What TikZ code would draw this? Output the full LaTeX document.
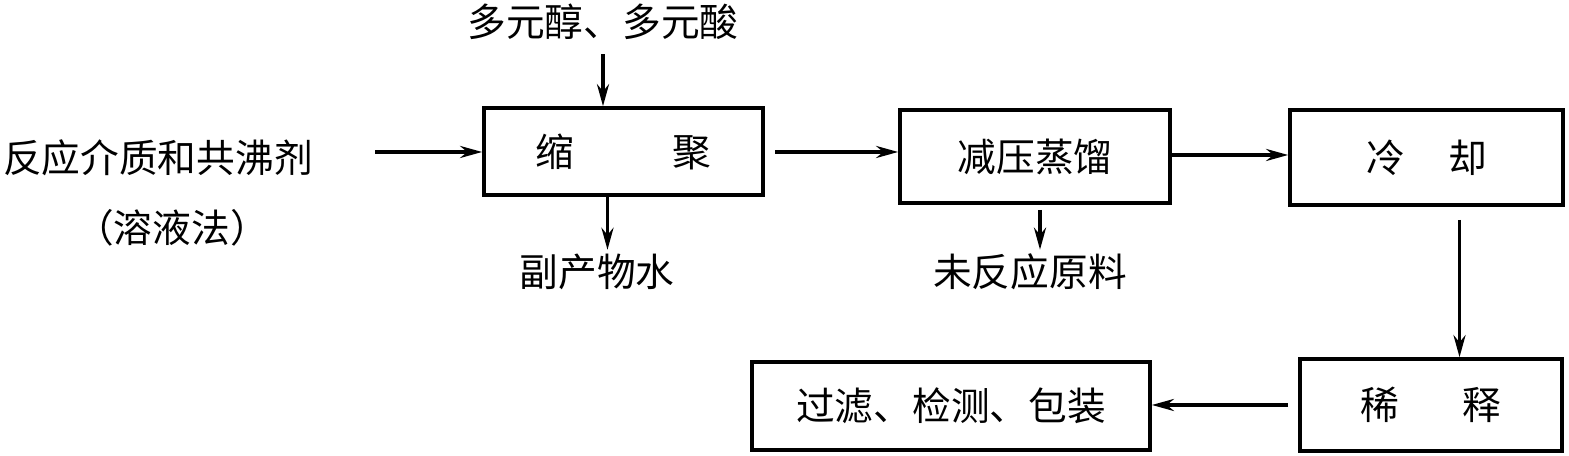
\documentclass[tikz,border=0pt]{standalone}
\usepackage{fontspec}
\setmainfont{Noto Sans CJK SC}
\usetikzlibrary{arrows.meta,calc}
\begin{document}
\begin{tikzpicture}[x=0.01cm,y=-0.01cm,
  every node/.style={font=\fontsize{11}{13}\selectfont, inner sep=1pt},
  procbox/.style={draw, line width=1pt, inner sep=0pt},
  arr/.style={line width=1pt, -{Stealth[length=0.22cm,width=0.12cm]}}]
\useasboundingbox (0,0) rectangle (1569,456);
% boxes
\node[procbox, minimum width=2.79cm, minimum height=0.87cm] (suo) at (623.5,151.5) {缩\hspace{0.98cm}聚};
\node[procbox, minimum width=2.70cm, minimum height=0.93cm] (jy) at (1035,156.5) {减压蒸馏};
\node[procbox, minimum width=2.73cm, minimum height=0.95cm] (lq) at (1426.5,157.5) {冷\hspace{0.43cm}却};
\node[procbox, minimum width=2.62cm, minimum height=0.92cm] (xs) at (1431,405) {稀\hspace{0.63cm}释};
\node[procbox, minimum width=3.98cm, minimum height=0.88cm] (gl) at (951,406) {过滤、检测、包装};
% labels
\node (dy) at (603,22) {多元醇、多元酸};
\node (fy) at (158,158) {反应介质和共沸剂};
\node (rf) at (172,228) {（溶液法）};
\node (fc) at (597,272) {副产物水};
\node (wf) at (1030,272) {未反应原料};
\coordinate (fyend) at (375,152);
\coordinate (suoout) at (775,152);
\coordinate (jyout) at (1170,155);
% connectors
\draw[arr] (dy.south) ++(0,-0.1cm) -- (dy.south |- suo.north);
\draw[arr] (fyend) -- (fyend -| suo.west);
\draw[arr] ([xshift=-0.16cm]suo.south) -- ([xshift=-0.16cm]suo.south |- fc.north);
\draw[arr] (suoout) -- (suoout -| jy.west);
\draw[arr] ([xshift=0.05cm]jy.south) ++(0,-0.05cm) -- ([xshift=0.05cm]jy.south |- wf.north);
\draw[arr] (jy.east |- jyout) -- (lq.west |- jyout);
\draw[arr] ([xshift=0.33cm]lq.south) ++(0,-0.13cm) -- ([xshift=0.33cm]lq.south |- xs.north);
\draw[arr] ([xshift=-0.1cm]xs.west) -- (xs.west -| gl.east);
\end{tikzpicture}
\end{document}
